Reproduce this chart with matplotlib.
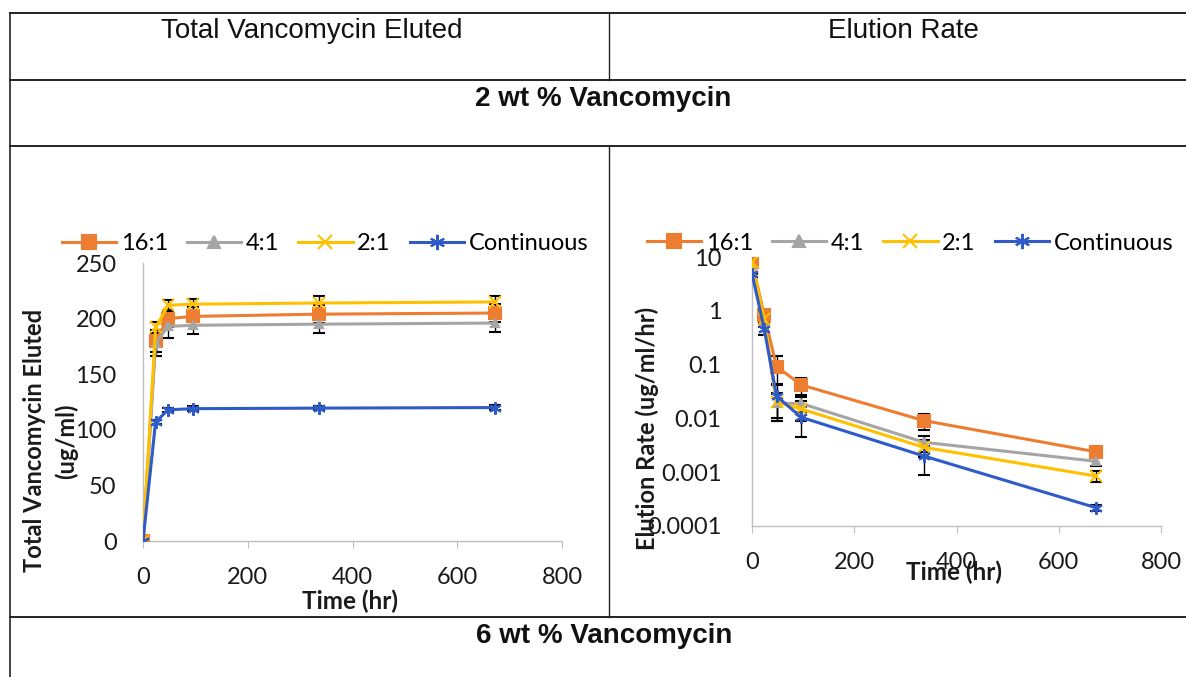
import numpy as np
import matplotlib
matplotlib.use('Agg')
import matplotlib.pyplot as plt
from matplotlib.lines import Line2D
from matplotlib.ticker import FuncFormatter, FixedLocator

# data
hours = [0, 24, 48, 96, 336, 672]
series = ['16:1', '4:1', '2:1', 'Continuous']

total_16 = [0, 180, 200, 202, 204, 205]
total_4 = [0, 178, 193, 194, 195, 196]
total_2 = [0, 192, 212, 213, 214, 215]
total_cont = [0, 107, 118, 119, 119.5, 120]
total_err_16 = [0, 10, 8, 8, 8, 8]
total_err_4 = [0, 12, 10, 8, 8, 8]
total_err_2 = [0, 5, 5, 5, 6, 5]
total_err_cont = [0, 2, 2, 2, 2, 2]

rate_16 = [8.1, 0.82, 0.092, 0.042, 0.0091, 0.0024]
rate_4 = [7.0, 0.6, 0.019, 0.019, 0.0036, 0.0016]
rate_2 = [8.0, 0.7, 0.02, 0.015, 0.0029, 0.00085]
rate_cont = [4.9, 0.46, 0.026, 0.0105, 0.002, 0.00022]
rate_err_16 = [0, 0.2, 0.05, 0.015, 0.003, 0.0003]
rate_err_4 = [0, 0.1, 0.01, 0.006, 0.0012, 0.0003]
rate_err_2 = [0, 0.1, 0.01, 0.006, 0.001, 0.0002]
rate_err_cont = [0, 0.1, 0.017, 0.006, 0.0011, 0.00003]

colors = ['#ED7D31', '#A5A5A5', '#FFC000', '#2E5BC8']
markers = ['s', '^', 'x', (6, 2, 0)]
msizes = [8, 6, 8, 9]

chart_font = 'Lato'
head_font = 'Liberation Sans'
txt = '#1a1a1a'

fig = plt.figure(figsize=(11.86, 6.77), dpi=100)
W, H = 1186.0, 677.0

def fx(px):
    return px / W

def fy(py):
    return 1 - py / H

# table grid
lc = '#222222'
for y0 in [13, 80, 146, 617]:
    fig.add_artist(Line2D([fx(10), 1.0], [fy(y0), fy(y0)], color=lc, lw=1.4))
fig.add_artist(Line2D([fx(10), fx(10)], [fy(13), 0.0], color=lc, lw=1.2))
fig.add_artist(Line2D([fx(609), fx(609)], [fy(13), fy(80)], color=lc, lw=1.0))
fig.add_artist(Line2D([fx(609), fx(609)], [fy(146), fy(617)], color=lc, lw=1.0))

fig.text(fx(312), fy(31), 'Total Vancomycin Eluted', ha='center', va='center',
         fontsize=20, family=head_font, color='#111111')
fig.text(fx(903), fy(31), 'Elution Rate', ha='center', va='center',
         fontsize=20, family=head_font, color='#111111')
fig.text(fx(603), fy(99), '2 wt % Vancomycin', ha='center', va='center',
         fontsize=20, family=head_font, weight='bold', color='#111111')
fig.text(fx(604), fy(636), '6 wt % Vancomycin', ha='center', va='center',
         fontsize=20, family=head_font, weight='bold', color='#111111')


def style_axes(ax, ypad):
    for s in ['top', 'right']:
        ax.spines[s].set_visible(False)
    for s in ['left', 'bottom']:
        ax.spines[s].set_color('#BFBFBF')
        ax.spines[s].set_linewidth(1.0)
    ax.tick_params(axis='both', which='both', colors='#BFBFBF', labelcolor=txt,
                   labelsize=17, length=5, direction='out')
    ax.tick_params(axis='x', pad=14)
    ax.tick_params(axis='y', length=0, pad=ypad)
    ax.minorticks_off()
    for lab in ax.get_xticklabels() + ax.get_yticklabels():
        lab.set_family(chart_font)


def legend_handles():
    hs = []
    for c, m, ms in zip(colors, markers, msizes):
        hs.append(Line2D([], [], color=c, lw=2.2, marker=m, markersize=ms + 2,
                         markeredgewidth=1.5))
    return hs


# left chart: total eluted
ax1 = fig.add_axes([fx(143), fy(541), fx(562) - fx(143), fy(263) - fy(541)])
totals = [total_16, total_4, total_2, total_cont]
terrs = [total_err_16, total_err_4, total_err_2, total_err_cont]
for name, vals, errs, c, m, ms in zip(series, totals, terrs, colors, markers, msizes):
    ax1.errorbar(hours, vals, yerr=errs, color=c, lw=2.2, marker=m, markersize=ms,
                 markeredgewidth=1.5, ecolor='black', elinewidth=1, capsize=4, zorder=3)
ax1.set_xlim(0, 800)
ax1.set_ylim(0, 250)
ax1.set_xticks([0, 200, 400, 600, 800])
ax1.set_yticks([0, 50, 100, 150, 200, 250])
style_axes(ax1, 19)
ax1.set_xlabel('Time (hr)', fontsize=17.5, weight='bold', family=chart_font, color=txt)
ax1.set_ylabel('Total Vancomycin Eluted\n(ug/ml)', fontsize=17, weight='bold',
               family=chart_font, color=txt, linespacing=1.45)
ax1.xaxis.set_label_coords(0.494, -0.175)
ax1.yaxis.set_label_coords(-0.155, 0.36)
ax1.legend(legend_handles(), series, loc='center', bbox_to_anchor=(fx(325), fy(244)),
           bbox_transform=fig.transFigure, ncol=4, frameon=False,
           prop={'family': chart_font, 'size': 17},
           handlelength=2.3, handletextpad=0.2, columnspacing=0.8, borderaxespad=0)

# right chart: elution rate (log)
ax2 = fig.add_axes([fx(752), fy(526), fx(1161) - fx(752), fy(257) - fy(526)])
rates = [rate_16, rate_4, rate_2, rate_cont]
rerrs = [rate_err_16, rate_err_4, rate_err_2, rate_err_cont]
for name, vals, errs, c, m, ms in zip(series, rates, rerrs, colors, markers, msizes):
    ax2.errorbar(hours, vals, yerr=errs, color=c, lw=2.2, marker=m, markersize=ms,
                 markeredgewidth=1.5, ecolor='black', elinewidth=1, capsize=4, zorder=3)
ax2.set_yscale('log')
ax2.set_xlim(0, 800)
ax2.set_ylim(1e-4, 10)
ax2.set_xticks([0, 200, 400, 600, 800])
ax2.yaxis.set_major_locator(FixedLocator([1e-4, 1e-3, 1e-2, 1e-1, 1, 10]))
ax2.yaxis.set_major_formatter(FuncFormatter(lambda v, p: '%g' % v))
style_axes(ax2, 22)
ax2.set_xlabel('Time (hr)', fontsize=17.5, weight='bold', family=chart_font, color=txt)
ax2.set_ylabel('Elution Rate (ug/ml/hr)', fontsize=17, weight='bold',
               family=chart_font, color=txt)
ax2.xaxis.set_label_coords(0.494, -0.13)
ax2.yaxis.set_label_coords(-0.228, 0.364)
ax2.legend(legend_handles(), series, loc='center', bbox_to_anchor=(fx(910), fy(243)),
           bbox_transform=fig.transFigure, ncol=4, frameon=False,
           prop={'family': chart_font, 'size': 17},
           handlelength=2.3, handletextpad=0.2, columnspacing=0.8, borderaxespad=0)

fig.savefig('out.png', dpi=100, facecolor='white')
